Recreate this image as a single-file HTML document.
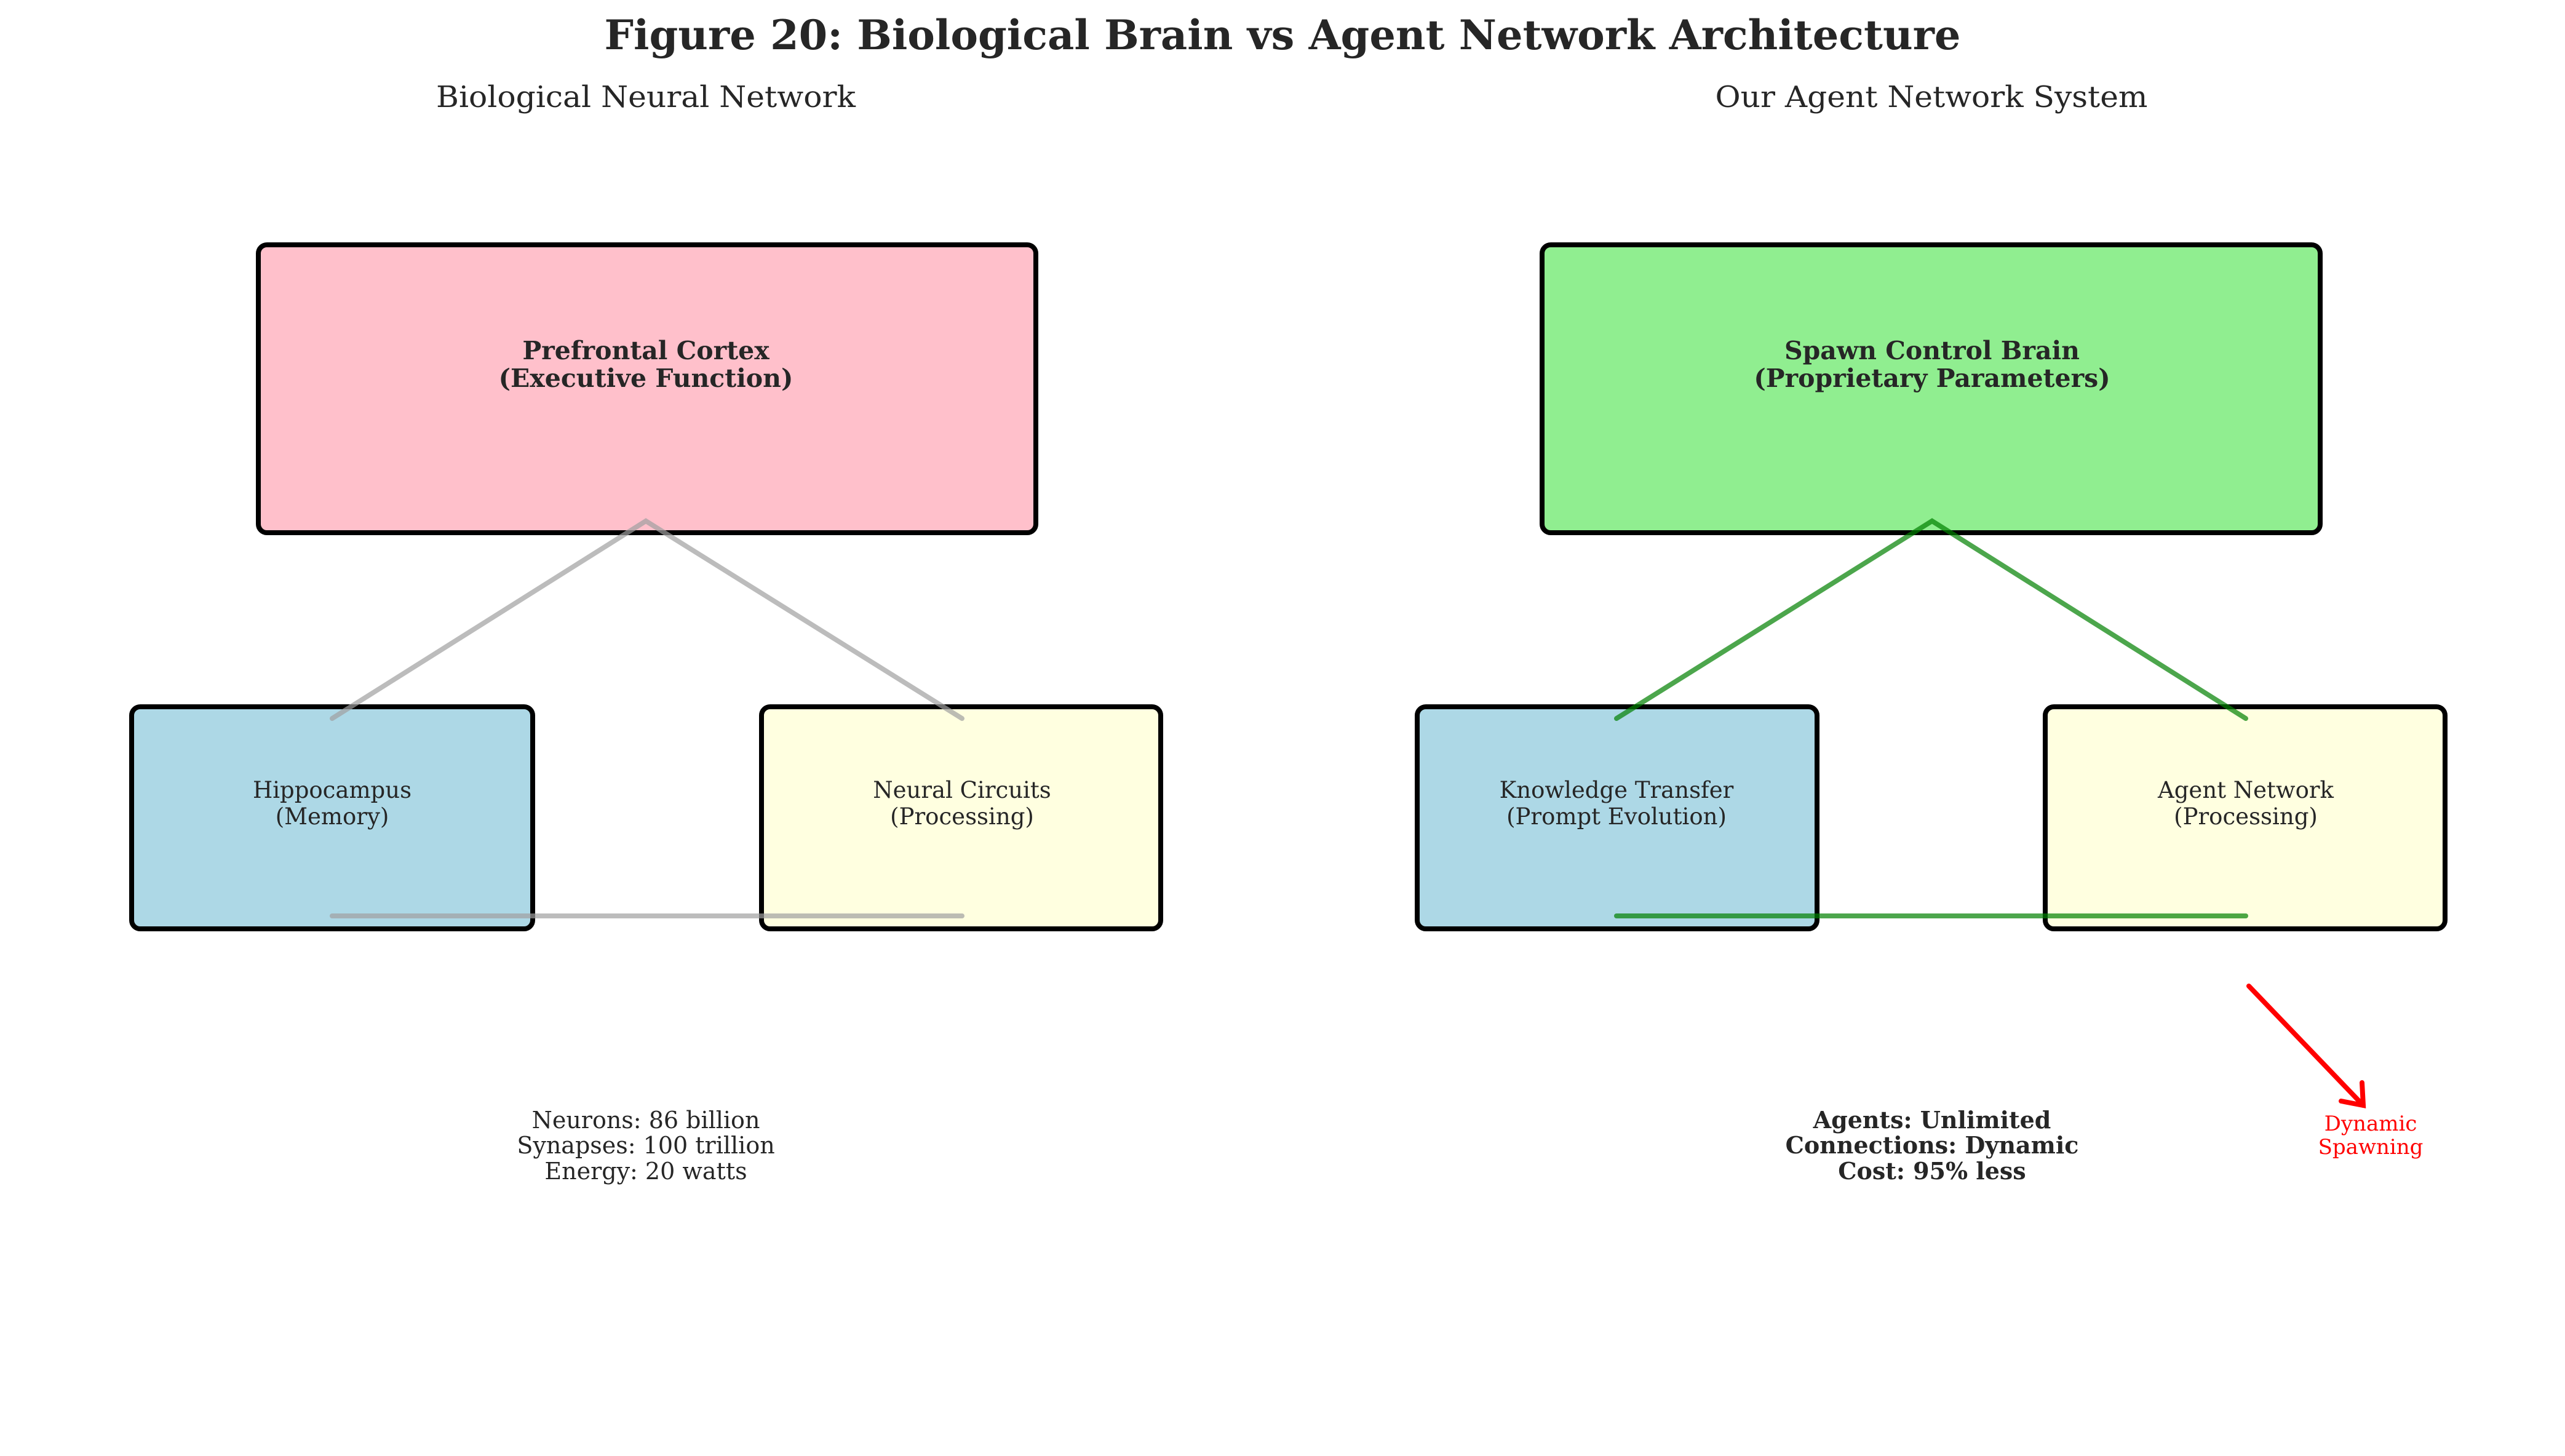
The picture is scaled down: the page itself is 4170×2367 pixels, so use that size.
<!DOCTYPE html>
<html><head><meta charset="utf-8"><style>
html,body{margin:0;padding:0;background:#fff;}
svg{display:block;}
text{font-family:"DejaVu Serif","Liberation Serif",serif;fill:#262626;}
</style></head><body>
<svg width="4170" height="2367" viewBox="0 0 4170 2367" xmlns="http://www.w3.org/2000/svg">
<text x="2085" y="80" text-anchor="middle" font-size="66" font-weight="bold" textLength="2205" lengthAdjust="spacingAndGlyphs">Figure 20: Biological Brain vs Agent Network Architecture</text>
<text x="1050" y="174" text-anchor="middle" font-size="48" textLength="682" lengthAdjust="spacingAndGlyphs">Biological Neural Network</text>
<text x="3140" y="174" text-anchor="middle" font-size="48" textLength="703" lengthAdjust="spacingAndGlyphs">Our Agent Network System</text>

<!-- left -->
<rect x="420" y="398" width="1264" height="468" rx="14" fill="#ffc0cb" stroke="#000" stroke-width="8"/>
<rect x="214" y="1149" width="652" height="361" rx="14" fill="#add8e6" stroke="#000" stroke-width="8"/>
<rect x="1238" y="1149" width="649" height="361" rx="14" fill="#ffffe0" stroke="#000" stroke-width="8"/>
<g stroke="#a0a0a0" stroke-opacity="0.7" stroke-width="8" stroke-linecap="round" fill="none">
<polyline points="540,1168 1050,847 1564,1168"/>
<line x1="540" y1="1489" x2="1564" y2="1489"/>
</g>
<text x="1050" y="584" text-anchor="middle" font-size="41" font-weight="bold">Prefrontal Cortex</text>
<text x="1050" y="629" text-anchor="middle" font-size="41" font-weight="bold">(Executive Function)</text>
<text x="540" y="1297" text-anchor="middle" font-size="37">Hippocampus</text>
<text x="540" y="1340" text-anchor="middle" font-size="37">(Memory)</text>
<text x="1564" y="1297" text-anchor="middle" font-size="37">Neural Circuits</text>
<text x="1564" y="1340" text-anchor="middle" font-size="37">(Processing)</text>
<text x="1050" y="1834" text-anchor="middle" font-size="38">Neurons: 86 billion</text>
<text x="1050" y="1875" text-anchor="middle" font-size="38">Synapses: 100 trillion</text>
<text x="1050" y="1917" text-anchor="middle" font-size="38">Energy: 20 watts</text>

<!-- right -->
<rect x="2507" y="398" width="1265" height="468" rx="14" fill="#90ee90" stroke="#000" stroke-width="8"/>
<rect x="2304" y="1149" width="650" height="361" rx="14" fill="#add8e6" stroke="#000" stroke-width="8"/>
<rect x="3325" y="1149" width="650" height="361" rx="14" fill="#ffffe0" stroke="#000" stroke-width="8"/>
<g stroke="#008000" stroke-opacity="0.7" stroke-width="8" stroke-linecap="round" fill="none">
<polyline points="2628,1168 3141,847 3651,1168"/>
<line x1="2628" y1="1489" x2="3651" y2="1489"/>
</g>
<text x="3141" y="584" text-anchor="middle" font-size="41" font-weight="bold">Spawn Control Brain</text>
<text x="3141" y="629" text-anchor="middle" font-size="41" font-weight="bold">(Proprietary Parameters)</text>
<text x="2628" y="1297" text-anchor="middle" font-size="37">Knowledge Transfer</text>
<text x="2628" y="1340" text-anchor="middle" font-size="37">(Prompt Evolution)</text>
<text x="3651" y="1297" text-anchor="middle" font-size="37">Agent Network</text>
<text x="3651" y="1340" text-anchor="middle" font-size="37">(Processing)</text>
<text x="3141" y="1834" text-anchor="middle" font-size="38" font-weight="bold">Agents: Unlimited</text>
<text x="3141" y="1875" text-anchor="middle" font-size="38" font-weight="bold">Connections: Dynamic</text>
<text x="3141" y="1917" text-anchor="middle" font-size="38" font-weight="bold">Cost: 95% less</text>

<g stroke="#ff0000" stroke-width="8" stroke-linecap="round" fill="none">
<line x1="3656" y1="1603" x2="3842" y2="1797"/>
<polyline points="3840,1760 3842,1797 3806,1790"/>
</g>
<text x="3854" y="1838" text-anchor="middle" font-size="34" style="fill:#ff0000">Dynamic</text>
<text x="3854" y="1876" text-anchor="middle" font-size="34" style="fill:#ff0000">Spawning</text>
</svg>
</body></html>
